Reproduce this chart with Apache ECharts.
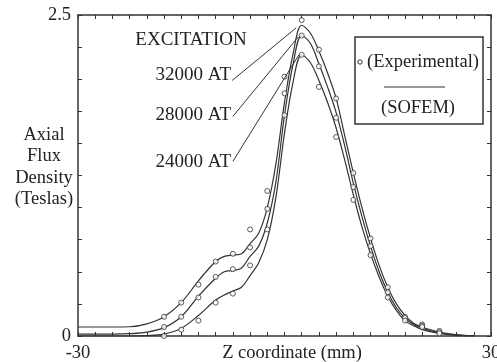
<!DOCTYPE html>
<html>
<head>
<meta charset="utf-8">
<script src="https://cdn.jsdelivr.net/npm/echarts@6/dist/echarts.min.js"></script>
<style>
  html, body { margin: 0; padding: 0; background: #fff; }
  #chart { width: 497px; height: 362px; }
</style>
</head>
<body>
<div id="chart"></div>
<script>
// SOFEM curves (computed), z in mm
const zLine = [-30, -25, -22.5, -20, -17.5, -15, -12.5, -10, -8.75, -7.5, -6.25, -5, -3.75, -2.5, -1.25, 0,
  1.25, 2.5, 3.75, 5, 6.25, 7.5, 8.75, 10, 11.25, 12.5, 13.75, 15, 16.25, 17.5, 18.75, 20, 22.5, 25, 27.5];
const sofem32000 = [0.07, 0.07, 0.072, 0.095, 0.15, 0.26, 0.43, 0.58, 0.62, 0.63, 0.64, 0.72, 0.8, 1.0, 1.34, 1.82,
  2.2, 2.42, 2.36, 2.22, 2.05, 1.85, 1.56, 1.27, 1.0, 0.76, 0.55, 0.38, 0.25, 0.16, 0.1, 0.07, 0.03, 0.01, 0];
const sofem28000 = [0.015, 0.015, 0.018, 0.03, 0.065, 0.15, 0.31, 0.45, 0.5, 0.51, 0.53, 0.62, 0.7, 0.88, 1.2, 1.72,
  2.12, 2.34, 2.28, 2.12, 1.94, 1.74, 1.48, 1.19, 0.93, 0.7, 0.5, 0.34, 0.22, 0.14, 0.09, 0.06, 0.025, 0.008, 0];
const sofem24000 = [0, 0, 0, 0.003, 0.015, 0.06, 0.16, 0.28, 0.32, 0.35, 0.38, 0.47, 0.57, 0.75, 1.08, 1.58,
  1.98, 2.19, 2.13, 1.99, 1.82, 1.62, 1.37, 1.1, 0.85, 0.64, 0.46, 0.31, 0.2, 0.12, 0.08, 0.05, 0.02, 0.005, 0];

// experimental points
const zExp = [-17.5, -15, -12.5, -10, -7.5, -5, -2.5, 0, 2.5, 5, 7.5, 10, 12.5, 15, 17.5, 20, 22.5];
const exp32000 = [0.15, 0.26, 0.4, 0.58, 0.64, 0.83, 1.13, 2.02, 2.46, 2.23, 1.85, 1.27, 0.76, 0.38, 0.15, 0.09, 0.04];
const exp28000 = [0.07, 0.15, 0.3, 0.46, 0.52, 0.69, 0.99, 1.89, 2.34, 2.1, 1.7, 1.16, 0.7, 0.34, 0.14, 0.08, 0.03];
const exp24000 = [0.0, 0.05, 0.12, 0.26, 0.33, 0.55, 0.83, 1.72, 2.19, 1.94, 1.55, 1.06, 0.63, 0.3, 0.12, 0.07, 0.02];

const excitations = ['32000 AT', '28000 AT', '24000 AT'];

const FONT = 'Liberation Serif';
const INK = '#222';
const font = size => size + 'px "' + FONT + '"';

const zip = (xs, ys) => xs.map((x, i) => [x, ys[i]]);

function sofemSeries(name, values, from, to) {
  return {
    name: name,
    type: 'line',
    data: zip(zLine, values),
    smooth: 0.35,
    symbol: 'none',
    lineStyle: { color: '#333', width: 1.2 },
    markLine: {
      silent: true,
      symbol: 'none',
      label: { show: false },
      lineStyle: { color: '#333', width: 1, type: 'solid' },
      data: [[{ coord: from }, { coord: to }]]
    },
    z: 2
  };
}

function expSeries(values) {
  return {
    type: 'scatter',
    data: zip(zExp, values),
    symbol: 'circle',
    symbolSize: 5,
    itemStyle: { color: '#fff', borderColor: '#333', borderWidth: 1 },
    z: 3
  };
}

const chart = echarts.init(document.getElementById('chart'));

const tickStyle = { show: true, inside: true, length: 4, lineStyle: { color: '#333', width: 1 } };
const lineStyleAxis = { show: true, onZero: false, lineStyle: { color: '#333', width: 1.5 } };

chart.setOption({
  animation: false,
  grid: { left: 78, right: 6, top: 15, bottom: 26, containLabel: false, outerBoundsMode: 'none' },
  xAxis: [
    {
      type: 'value', min: -30, max: 30, interval: 2.5,
      axisLine: lineStyleAxis, axisTick: tickStyle, splitLine: { show: false },
      axisLabel: {
        margin: 8, color: INK, fontFamily: FONT, fontSize: 18.5,
        formatter: v => (v === -30 || v === 30 ? String(v) : '')
      }
    },
    {
      type: 'value', min: -30, max: 30, interval: 2.5, position: 'top',
      axisLine: lineStyleAxis, axisTick: tickStyle, axisLabel: { show: false }, splitLine: { show: false }
    }
  ],
  yAxis: [
    {
      type: 'value', min: 0, max: 2.5, interval: 0.25,
      axisLine: lineStyleAxis, axisTick: tickStyle, splitLine: { show: false },
      axisLabel: {
        margin: 7, color: INK, fontFamily: FONT, fontSize: 18.5,
        formatter: v => (v === 0 ? '0' : v === 2.5 ? '2.5' : '')
      }
    },
    {
      type: 'value', min: 0, max: 2.5, interval: 0.25, position: 'right',
      axisLine: lineStyleAxis, axisTick: tickStyle, axisLabel: { show: false }, splitLine: { show: false }
    }
  ],
  graphic: [
    {
      type: 'text', x: 44, y: 167, z: 10,
      style: {
        text: 'Axial\nFlux\nDensity\n(Teslas)', fill: INK, font: font(18.5),
        align: 'center', verticalAlign: 'middle', lineHeight: 21.5
      }
    },
    {
      type: 'text', x: 292, y: 353, z: 10,
      style: { text: 'Z coordinate (mm)', fill: INK, font: font(18.5), align: 'center', verticalAlign: 'middle' }
    },
    {
      type: 'text', x: 191, y: 40, z: 10,
      style: { text: 'EXCITATION', fill: INK, font: font(19), align: 'center', verticalAlign: 'middle' }
    },
    {
      type: 'text', x: 231, y: 75, z: 10,
      style: { text: excitations[0], fill: INK, font: font(19), align: 'right', verticalAlign: 'middle' }
    },
    {
      type: 'text', x: 231, y: 115, z: 10,
      style: { text: excitations[1], fill: INK, font: font(19), align: 'right', verticalAlign: 'middle' }
    },
    {
      type: 'text', x: 231, y: 162, z: 10,
      style: { text: excitations[2], fill: INK, font: font(19), align: 'right', verticalAlign: 'middle' }
    },
    // legend box
    {
      type: 'group', x: 355, y: 37, z: 10,
      children: [
        { type: 'rect', shape: { x: 0, y: 0, width: 128, height: 87 },
          style: { fill: '#fff', stroke: '#333', lineWidth: 1.5 } },
        { type: 'circle', shape: { cx: 5, cy: 25, r: 2.2 },
          style: { fill: '#fff', stroke: '#333', lineWidth: 1 } },
        { type: 'text', x: 12, y: 25,
          style: { text: '(Experimental)', fill: INK, font: font(18.5), verticalAlign: 'middle' } },
        { type: 'line', shape: { x1: 29, y1: 50, x2: 90, y2: 50 },
          style: { stroke: '#333', lineWidth: 1.2 } },
        { type: 'text', x: 63, y: 71,
          style: { text: '(SOFEM)', fill: INK, font: font(18.5), align: 'center', verticalAlign: 'middle' } }
      ]
    }
  ],
  series: [
    sofemSeries('32000', sofem32000, [-7.6, 1.99], [1.7, 2.4]),
    sofemSeries('28000', sofem28000, [-7.5, 1.71], [2.0, 2.33]),
    sofemSeries('24000', sofem24000, [-7.5, 1.36], [2.1, 2.19]),
    expSeries(exp32000),
    expSeries(exp28000),
    expSeries(exp24000)
  ]
});
</script>
</body>
</html>
